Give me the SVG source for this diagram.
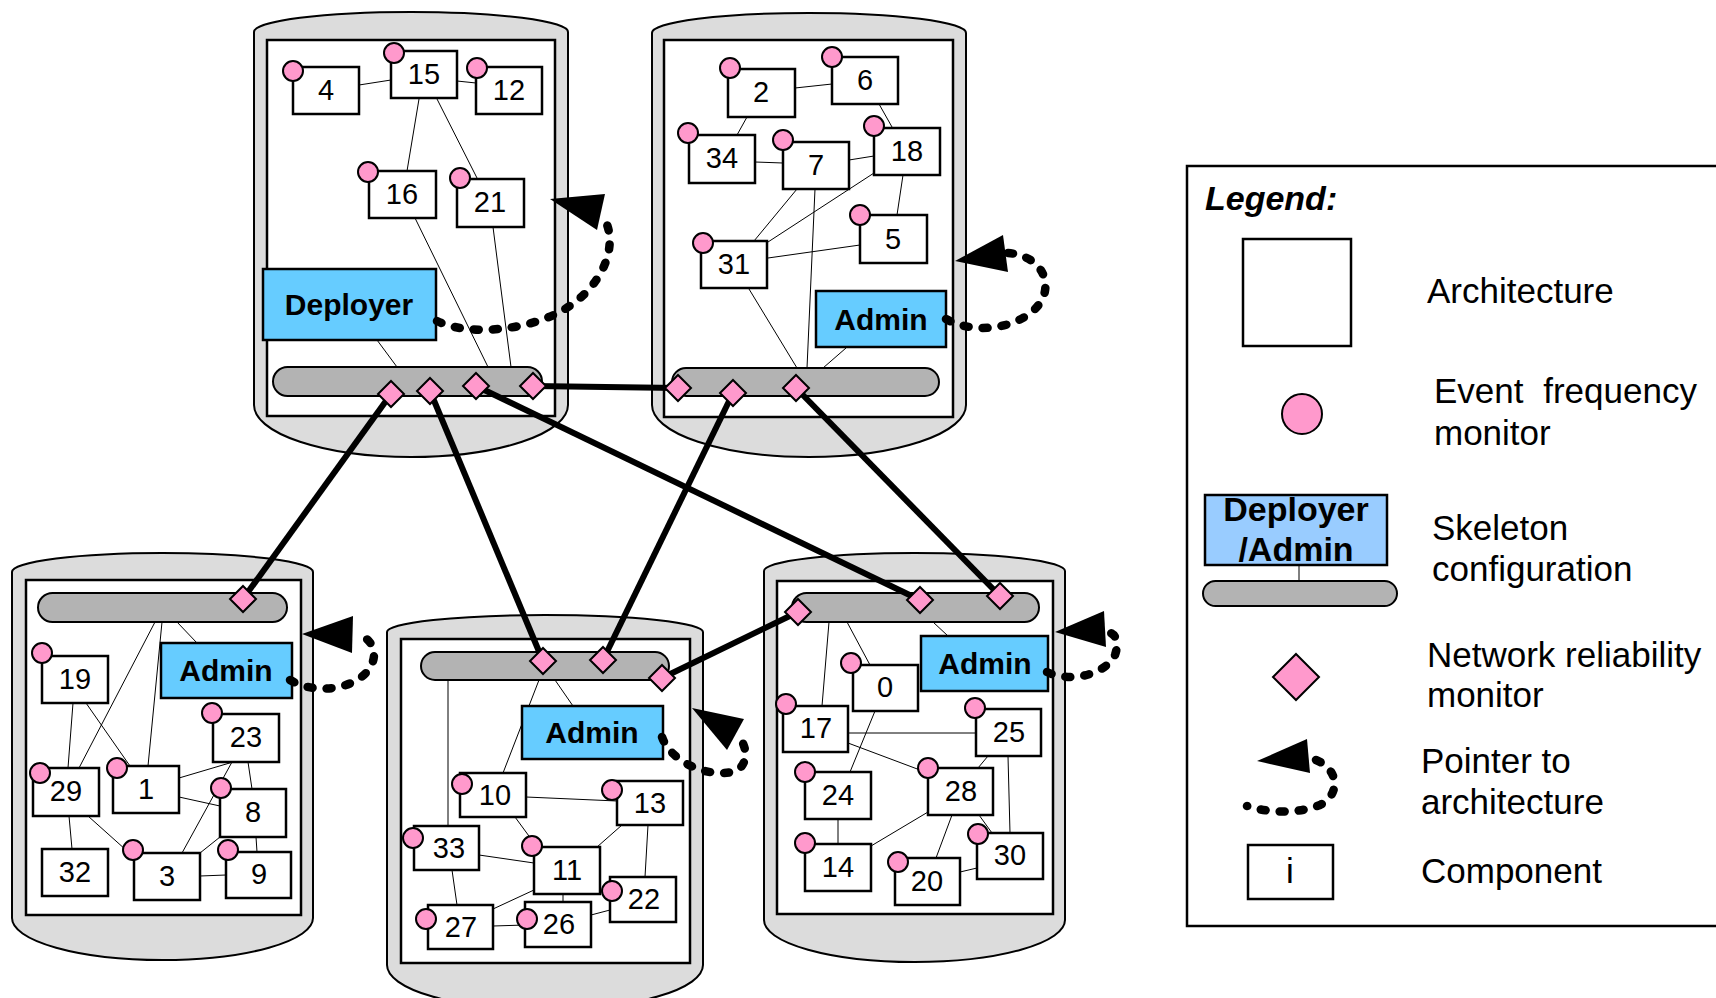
<svg xmlns="http://www.w3.org/2000/svg" xmlns:xlink="http://www.w3.org/1999/xlink" width="1716" height="998" viewBox="0 0 1716 998">
  <style>
    .host { fill: #dcdcdc; stroke: #000; stroke-width: 2; }
    .arch { fill: #fff; stroke: #000; stroke-width: 2.5; }
    .bus { fill: #b3b3b3; stroke: #000; stroke-width: 2; }
    .link { stroke: #000; stroke-width: 1; fill: none; }
    .comp { fill: #fff; stroke: #000; stroke-width: 2.5; }
    .efm { fill: #ff99cc; stroke: #000; stroke-width: 2; }
    .nrm { fill: #ff99cc; stroke: #000; stroke-width: 2; }
    .skel { fill: #66ccff; stroke: #000; stroke-width: 2.5; }
    .net { stroke: #000; stroke-width: 6; fill: none; }
    .ptr { fill: none; stroke: #000; stroke-width: 8.5; stroke-dasharray: 5 14; stroke-linecap: round; }
    .head { fill: #000; }
    .lbl { font-family: "Liberation Sans", Arial, sans-serif; font-size: 29px; text-anchor: middle; fill: #000; }
    .skt { font-family: "Liberation Sans", Arial, sans-serif; font-size: 30px; font-weight: bold; text-anchor: middle; fill: #000; }
    .lskt { font-family: "Liberation Sans", Arial, sans-serif; font-size: 34px; font-weight: bold; text-anchor: middle; fill: #000; }
    .lgt { font-family: "Liberation Sans", Arial, sans-serif; font-size: 35px; fill: #000; }
  </style>
  <defs>
    <polygon id="dia" points="0,-13 13,0 0,13 -13,0"/>
  </defs>

  <!-- Host A: deployer architecture -->
  <g id="hostA">
    <path class="host" d="M254,32 A157,20 0 0 1 568,32 L568,405 A157,52 0 0 1 254,405 Z"/>
    <rect class="arch" x="267" y="40" width="288" height="376"/>
    <line class="link" x1="359" y1="85" x2="391" y2="80"/>
    <line class="link" x1="457" y1="81" x2="476" y2="83"/>
    <line class="link" x1="419" y1="99" x2="407" y2="171"/>
    <line class="link" x1="437" y1="99" x2="477" y2="178"/>
    <line class="link" x1="415" y1="218" x2="488" y2="367"/>
    <line class="link" x1="493" y1="227" x2="511" y2="367"/>
    <line class="link" x1="377" y1="340" x2="397" y2="367"/>
    <rect class="bus" x="273" y="367" width="269" height="29" rx="14.5"/>
    <g id="skelA"><rect class="skel" x="263" y="269" width="173" height="71"/><text class="skt" x="349" y="315">Deployer</text></g>
    <g id="c4"><rect class="comp" x="293" y="67" width="66" height="47"/><text class="lbl" x="326" y="100">4</text><circle class="efm" cx="293" cy="71" r="10"/></g>
    <g id="c15"><rect class="comp" x="391" y="51" width="66" height="47"/><text class="lbl" x="424" y="84">15</text><circle class="efm" cx="394" cy="53" r="10"/></g>
    <g id="c12"><rect class="comp" x="476" y="67" width="66" height="47"/><text class="lbl" x="509" y="100">12</text><circle class="efm" cx="477" cy="68" r="10"/></g>
    <g id="c16"><rect class="comp" x="369" y="171" width="67" height="47"/><text class="lbl" x="402" y="204">16</text><circle class="efm" cx="368" cy="172" r="10"/></g>
    <g id="c21"><rect class="comp" x="457" y="179" width="67" height="48"/><text class="lbl" x="490" y="212">21</text><circle class="efm" cx="460" cy="178" r="10"/></g>
  </g>

  <!-- Host B -->
  <g id="hostB">
    <path class="host" d="M652,33 A157,20 0 0 1 966,33 L966,405 A157,52 0 0 1 652,405 Z"/>
    <rect class="arch" x="664" y="40" width="289" height="377"/>
    <line class="link" x1="795" y1="88" x2="832" y2="84"/>
    <line class="link" x1="747" y1="117" x2="737" y2="135"/>
    <line class="link" x1="879" y1="104" x2="892" y2="127"/>
    <line class="link" x1="755" y1="162" x2="783" y2="163"/>
    <line class="link" x1="849" y1="160" x2="874" y2="156"/>
    <line class="link" x1="797" y1="189" x2="754" y2="241"/>
    <line class="link" x1="874" y1="173" x2="768" y2="242"/>
    <line class="link" x1="903" y1="175" x2="897" y2="215"/>
    <line class="link" x1="768" y1="258" x2="860" y2="245"/>
    <line class="link" x1="815" y1="189" x2="807" y2="368"/>
    <line class="link" x1="749" y1="289" x2="797" y2="368"/>
    <line class="link" x1="846" y1="348" x2="823" y2="368"/>
    <rect class="bus" x="672" y="368" width="267" height="28" rx="14"/>
    <g id="skelB"><rect class="skel" x="816" y="291" width="130" height="56"/><text class="skt" x="881" y="330">Admin</text></g>
    <g id="c2"><rect class="comp" x="728" y="69" width="67" height="48"/><text class="lbl" x="761" y="102">2</text><circle class="efm" cx="730" cy="68" r="10"/></g>
    <g id="c6"><rect class="comp" x="832" y="57" width="66" height="47"/><text class="lbl" x="865" y="90">6</text><circle class="efm" cx="832" cy="57" r="10"/></g>
    <g id="c34"><rect class="comp" x="689" y="135" width="66" height="48"/><text class="lbl" x="722" y="168">34</text><circle class="efm" cx="688" cy="133" r="10"/></g>
    <g id="c7"><rect class="comp" x="783" y="142" width="66" height="47"/><text class="lbl" x="816" y="175">7</text><circle class="efm" cx="783" cy="140" r="10"/></g>
    <g id="c18"><rect class="comp" x="874" y="128" width="66" height="47"/><text class="lbl" x="907" y="161">18</text><circle class="efm" cx="874" cy="126" r="10"/></g>
    <g id="c5"><rect class="comp" x="860" y="215" width="67" height="48"/><text class="lbl" x="893" y="249">5</text><circle class="efm" cx="860" cy="215" r="10"/></g>
    <g id="c31"><rect class="comp" x="701" y="241" width="66" height="47"/><text class="lbl" x="734" y="274">31</text><circle class="efm" cx="703" cy="243" r="10"/></g>
  </g>

  <!-- Host C -->
  <g id="hostC">
    <path class="host" d="M12,572 A150.5,19 0 0 1 313,572 L313,918 A150.5,42 0 0 1 12,918 Z"/>
    <rect class="arch" x="26" y="580" width="275" height="335"/>
    <line class="link" x1="155" y1="622" x2="79" y2="768"/>
    <line class="link" x1="162" y1="622" x2="148" y2="766"/>
    <line class="link" x1="177" y1="622" x2="197" y2="643"/>
    <line class="link" x1="73" y1="703" x2="68" y2="768"/>
    <line class="link" x1="86" y1="703" x2="130" y2="766"/>
    <line class="link" x1="179" y1="778" x2="233" y2="762"/>
    <line class="link" x1="179" y1="797" x2="220" y2="806"/>
    <line class="link" x1="232" y1="762" x2="182" y2="853"/>
    <line class="link" x1="248" y1="762" x2="252" y2="789"/>
    <line class="link" x1="69" y1="816" x2="72" y2="849"/>
    <line class="link" x1="88" y1="816" x2="126" y2="850"/>
    <line class="link" x1="220" y1="837" x2="200" y2="853"/>
    <line class="link" x1="256" y1="837" x2="257" y2="852"/>
    <line class="link" x1="200" y1="876" x2="226" y2="875"/>
    <rect class="bus" x="38" y="593" width="249" height="29" rx="14.5"/>
    <g id="skelC"><rect class="skel" x="161" y="643" width="131" height="55"/><text class="skt" x="226" y="681">Admin</text></g>
    <g id="c19"><rect class="comp" x="42" y="656" width="66" height="47"/><text class="lbl" x="75" y="689">19</text><circle class="efm" cx="42" cy="653" r="10"/></g>
    <g id="c29"><rect class="comp" x="33" y="768" width="66" height="48"/><text class="lbl" x="66" y="801">29</text><circle class="efm" cx="40" cy="773" r="10"/></g>
    <g id="c1"><rect class="comp" x="113" y="766" width="66" height="47"/><text class="lbl" x="146" y="799">1</text><circle class="efm" cx="117" cy="768" r="10"/></g>
    <g id="c23"><rect class="comp" x="213" y="714" width="66" height="48"/><text class="lbl" x="246" y="747">23</text><circle class="efm" cx="212" cy="713" r="10"/></g>
    <g id="c8"><rect class="comp" x="220" y="789" width="66" height="48"/><text class="lbl" x="253" y="822">8</text><circle class="efm" cx="221" cy="788" r="10"/></g>
    <g id="c32"><rect class="comp" x="42" y="849" width="66" height="47"/><text class="lbl" x="75" y="882">32</text></g>
    <g id="c3"><rect class="comp" x="134" y="853" width="66" height="47"/><text class="lbl" x="167" y="886">3</text><circle class="efm" cx="133" cy="850" r="10"/></g>
    <g id="c9"><rect class="comp" x="226" y="852" width="65" height="46"/><text class="lbl" x="259" y="884">9</text><circle class="efm" cx="228" cy="850" r="10"/></g>
  </g>

  <!-- Host D -->
  <g id="hostD">
    <path class="host" d="M387,632 A158,17 0 0 1 703,632 L703,965 A158,45 0 0 1 387,965 Z"/>
    <rect class="arch" x="401" y="639" width="289" height="324"/>
    <line class="link" x1="448" y1="680" x2="448" y2="826"/>
    <line class="link" x1="539" y1="680" x2="503" y2="773"/>
    <line class="link" x1="555" y1="680" x2="573" y2="706"/>
    <line class="link" x1="526" y1="797" x2="617" y2="801"/>
    <line class="link" x1="515" y1="817" x2="537" y2="847"/>
    <line class="link" x1="622" y1="825" x2="597" y2="847"/>
    <line class="link" x1="648" y1="825" x2="645" y2="877"/>
    <line class="link" x1="479" y1="855" x2="534" y2="863"/>
    <line class="link" x1="452" y1="870" x2="457" y2="905"/>
    <line class="link" x1="534" y1="890" x2="493" y2="909"/>
    <line class="link" x1="563" y1="894" x2="563" y2="902"/>
    <line class="link" x1="493" y1="926" x2="525" y2="925"/>
    <line class="link" x1="591" y1="915" x2="610" y2="910"/>
    <rect class="bus" x="421" y="652" width="248" height="28" rx="14"/>
    <g id="skelD"><rect class="skel" x="522" y="706" width="141" height="53"/><text class="skt" x="592" y="743">Admin</text></g>
    <g id="c10"><rect class="comp" x="460" y="773" width="66" height="44"/><text class="lbl" x="495" y="805">10</text><circle class="efm" cx="462" cy="784" r="10"/></g>
    <g id="c13"><rect class="comp" x="617" y="781" width="66" height="44"/><text class="lbl" x="650" y="813">13</text><circle class="efm" cx="612" cy="790" r="10"/></g>
    <g id="c33"><rect class="comp" x="414" y="826" width="65" height="44"/><text class="lbl" x="449" y="858">33</text><circle class="efm" cx="413" cy="838" r="10"/></g>
    <g id="c11"><rect class="comp" x="534" y="847" width="66" height="47"/><text class="lbl" x="567" y="880">11</text><circle class="efm" cx="532" cy="846" r="10"/></g>
    <g id="c22"><rect class="comp" x="610" y="877" width="66" height="45"/><text class="lbl" x="644" y="909">22</text><circle class="efm" cx="612" cy="891" r="10"/></g>
    <g id="c27"><rect class="comp" x="428" y="905" width="65" height="44"/><text class="lbl" x="461" y="937">27</text><circle class="efm" cx="426" cy="919" r="10"/></g>
    <g id="c26"><rect class="comp" x="525" y="902" width="66" height="45"/><text class="lbl" x="559" y="934">26</text><circle class="efm" cx="527" cy="919" r="10"/></g>
  </g>

  <!-- Host E -->
  <g id="hostE">
    <path class="host" d="M764,571 A150.5,18 0 0 1 1065,571 L1065,920 A150.5,42 0 0 1 764,920 Z"/>
    <rect class="arch" x="777" y="581" width="276" height="333"/>
    <line class="link" x1="829" y1="622" x2="822" y2="706"/>
    <line class="link" x1="847" y1="622" x2="870" y2="665"/>
    <line class="link" x1="933" y1="622" x2="948" y2="636"/>
    <line class="link" x1="848" y1="733" x2="976" y2="733"/>
    <line class="link" x1="848" y1="743" x2="928" y2="773"/>
    <line class="link" x1="875" y1="711" x2="850" y2="772"/>
    <line class="link" x1="988" y1="756" x2="978" y2="768"/>
    <line class="link" x1="1008" y1="756" x2="1010" y2="833"/>
    <line class="link" x1="838" y1="819" x2="838" y2="844"/>
    <line class="link" x1="928" y1="812" x2="871" y2="846"/>
    <line class="link" x1="952" y1="815" x2="936" y2="858"/>
    <line class="link" x1="979" y1="815" x2="992" y2="833"/>
    <line class="link" x1="960" y1="872" x2="977" y2="868"/>
    <rect class="bus" x="792" y="593" width="247" height="29" rx="14.5"/>
    <g id="skelE"><rect class="skel" x="921" y="636" width="127" height="55"/><text class="skt" x="985" y="674">Admin</text></g>
    <g id="c0"><rect class="comp" x="853" y="665" width="65" height="46"/><text class="lbl" x="885" y="697">0</text><circle class="efm" cx="851" cy="663" r="10"/></g>
    <g id="c17"><rect class="comp" x="783" y="706" width="65" height="46"/><text class="lbl" x="816" y="738">17</text><circle class="efm" cx="786" cy="704" r="10"/></g>
    <g id="c25"><rect class="comp" x="976" y="709" width="65" height="47"/><text class="lbl" x="1009" y="742">25</text><circle class="efm" cx="975" cy="708" r="10"/></g>
    <g id="c24"><rect class="comp" x="805" y="772" width="66" height="47"/><text class="lbl" x="838" y="805">24</text><circle class="efm" cx="805" cy="772" r="10"/></g>
    <g id="c28"><rect class="comp" x="928" y="768" width="65" height="47"/><text class="lbl" x="961" y="801">28</text><circle class="efm" cx="928" cy="768" r="10"/></g>
    <g id="c14"><rect class="comp" x="805" y="844" width="66" height="47"/><text class="lbl" x="838" y="877">14</text><circle class="efm" cx="805" cy="843" r="10"/></g>
    <g id="c20"><rect class="comp" x="895" y="858" width="65" height="47"/><text class="lbl" x="927" y="891">20</text><circle class="efm" cx="898" cy="862" r="10"/></g>
    <g id="c30"><rect class="comp" x="977" y="833" width="66" height="46"/><text class="lbl" x="1010" y="865">30</text><circle class="efm" cx="978" cy="834" r="10"/></g>
  </g>

  <!-- network connections between buses -->
  <g id="connectors">
    <line class="net" x1="391" y1="394" x2="243" y2="599"/>
    <line class="net" x1="430" y1="391" x2="543" y2="661"/>
    <line class="net" x1="476" y1="386" x2="920" y2="600"/>
    <line class="net" x1="533" y1="386" x2="678" y2="388"/>
    <line class="net" x1="733" y1="393" x2="603" y2="660"/>
    <line class="net" x1="796" y1="388" x2="1000" y2="596"/>
    <line class="net" x1="662" y1="678" x2="798" y2="612"/>
  </g>

  <!-- network reliability monitors -->
  <g id="monitors">
    <use href="#dia" class="nrm" transform="translate(391,394)"/>
    <use href="#dia" class="nrm" transform="translate(430,391)"/>
    <use href="#dia" class="nrm" transform="translate(476,386)"/>
    <use href="#dia" class="nrm" transform="translate(533,386)"/>
    <use href="#dia" class="nrm" transform="translate(678,388)"/>
    <use href="#dia" class="nrm" transform="translate(733,393)"/>
    <use href="#dia" class="nrm" transform="translate(796,388)"/>
    <use href="#dia" class="nrm" transform="translate(243,599)"/>
    <use href="#dia" class="nrm" transform="translate(543,661)"/>
    <use href="#dia" class="nrm" transform="translate(603,660)"/>
    <use href="#dia" class="nrm" transform="translate(662,678)"/>
    <use href="#dia" class="nrm" transform="translate(798,612)"/>
    <use href="#dia" class="nrm" transform="translate(920,600)"/>
    <use href="#dia" class="nrm" transform="translate(1000,596)"/>
  </g>

  <!-- pointers from skeleton configurations to their architectures -->
  <g id="pointers">
    <path class="ptr" d="M437,321 C470,337 530,330 565,309 C600,288 618,250 606,222"/>
    <polygon class="head" points="550,199 605,194 597,230"/>
    <path class="ptr" d="M946,319 C980,338 1030,325 1043,298 C1052,275 1035,255 1008,253"/>
    <polygon class="head" points="955,261 1003,235 1008,272"/>
    <path class="ptr" d="M290,680 C315,695 355,690 370,668 C380,650 370,638 356,633"/>
    <polygon class="head" points="302,634 353,616 352,653"/>
    <path class="ptr" d="M662,737 C672,765 715,780 738,770 C750,760 745,745 740,738"/>
    <polygon class="head" points="692,708 744,719 727,750"/>
    <path class="ptr" d="M1047,672 C1070,683 1105,675 1115,655 C1120,640 1115,634 1108,632"/>
    <polygon class="head" points="1055,632 1104,611 1106,647"/>
  </g>

  <!-- legend -->
  <g id="legend">
    <rect x="1187" y="166" width="560" height="760" fill="#fff" stroke="#000" stroke-width="2.5"/>
    <text x="1205" y="210" font-family="'Liberation Sans', Arial, sans-serif" font-size="34" font-weight="bold" font-style="italic">Legend:</text>
    <rect x="1243" y="239" width="108" height="107" fill="#fff" stroke="#000" stroke-width="2.5"/>
    <text class="lgt" x="1427" y="303">Architecture</text>
    <circle class="efm" cx="1302" cy="414" r="20"/>
    <text class="lgt" x="1434" y="403" word-spacing="10">Event frequency</text>
    <text class="lgt" x="1434" y="445">monitor</text>
    <line class="link" x1="1299" y1="565" x2="1299" y2="581"/>
    <rect x="1205" y="495" width="182" height="70" fill="#99ccff" stroke="#000" stroke-width="2.5"/>
    <text class="lskt" x="1296" y="521">Deployer</text>
    <text class="lskt" x="1296" y="561">/Admin</text>
    <rect class="bus" x="1203" y="581" width="194" height="25" rx="12.5"/>
    <text class="lgt" x="1432" y="540">Skeleton</text>
    <text class="lgt" x="1432" y="581">configuration</text>
    <polygon class="nrm" points="1296,654 1319,677 1296,700 1273,677"/>
    <text class="lgt" x="1427" y="667">Network reliability</text>
    <text class="lgt" x="1427" y="707">monitor</text>
    <path class="ptr" d="M1316,760 C1340,770 1340,795 1320,805 C1295,815 1265,812 1247,806"/>
    <polygon class="head" points="1257,761 1307,739 1310,773"/>
    <text class="lgt" x="1421" y="773">Pointer to</text>
    <text class="lgt" x="1421" y="814">architecture</text>
    <rect x="1248" y="845" width="85" height="54" fill="#fff" stroke="#000" stroke-width="2.5"/>
    <text class="lgt" x="1290" y="883" text-anchor="middle">i</text>
    <text class="lgt" x="1421" y="883">Component</text>
  </g>
</svg>
